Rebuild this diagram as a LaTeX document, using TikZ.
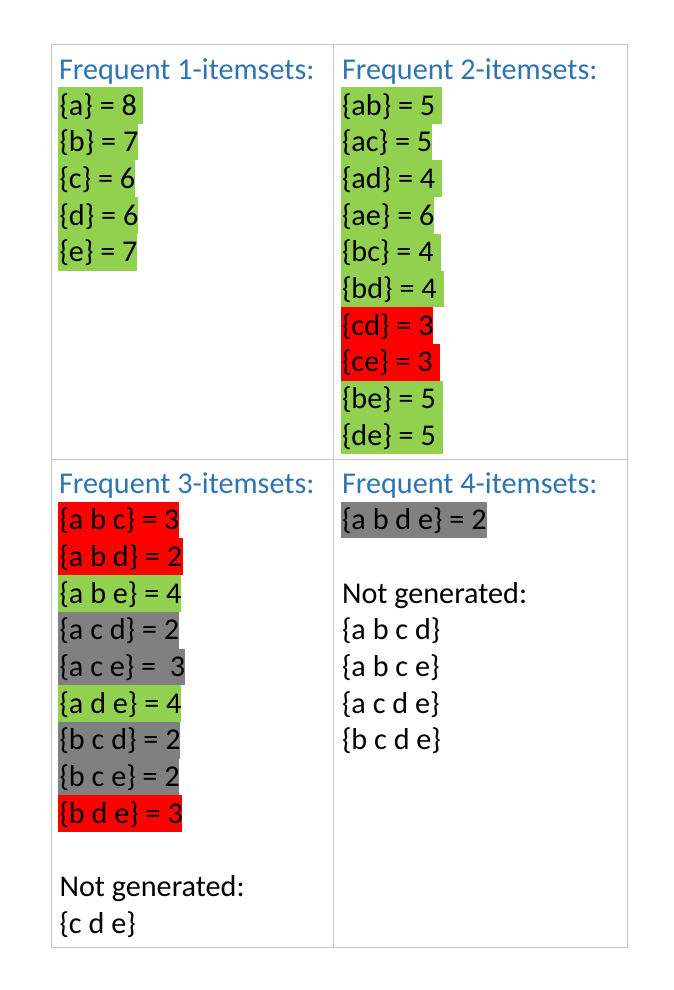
\documentclass[tikz,border=0pt]{standalone}
\usepackage{fontspec}
\setmainfont{Carlito}
\definecolor{hblue}{HTML}{2E74B5}
\definecolor{hgreen}{HTML}{92D050}
\definecolor{hred}{HTML}{FF0000}
\definecolor{hgray}{HTML}{808080}
\definecolor{rule}{HTML}{C8C8C8}
\newcommand\bodyfont{\fontsize{30.2}{37}\selectfont}
\tikzset{
  txt/.style={anchor=base west, inner sep=0pt, outer sep=0pt, font=\bodyfont, text=black},
  hdr/.style={txt, text=hblue},
  cellrule/.style={draw=rule, line width=1pt}
}
% #1 name prefix, #2 x of text, #3 top of first row, #4 list right/colour/text
\newcommand\hlcol[4]{%
  \foreach \r/\c/\t [count=\i from 0] in {#4} {%
    \pgfmathsetmacro\yy{#3+36.7*\i}%
    \fill[\c] (#2-1.5,\yy) rectangle (\r,\yy+36.7);%
    \node[txt] (#1\i) at (#2,\yy+28) {\t};%
  }}
\begin{document}
\begin{tikzpicture}[x=1pt,y=-1pt]
\useasboundingbox (0,0) rectangle (674,990);
% table
\draw[cellrule] (51,45) rectangle (627,947);
\draw[cellrule] (333,45) -- (333,947);
\draw[cellrule] (51,459.5) -- (627,459.5);
% headers
\node[hdr] (h1) at (59,79) {Frequent 1-itemsets:};
\node[hdr] (h2) at (342,79) {Frequent 2-itemsets:};
\node[hdr] (h3) at (59,493.7) {Frequent 3-itemsets:};
\node[hdr] (h4) at (342,493.7) {Frequent 4-itemsets:};
% column 1
\hlcol{a}{59.5}{87}{143/hgreen/\{a\} = 8, 138/hgreen/\{b\} = 7, 135/hgreen/\{c\} = 6, 138/hgreen/\{d\} = 6, 137/hgreen/\{e\} = 7}
% column 2
\hlcol{b}{342}{87}{442/hgreen/\{ab\} = 5, 432/hgreen/\{ac\} = 5, 442/hgreen/\{ad\} = 4, 434/hgreen/\{ae\} = 6, 441/hgreen/\{bc\} = 4, 444/hgreen/\{bd\} = 4, 433/hred/\{cd\} = 3, 440/hred/\{ce\} = 3, 443/hgreen/\{be\} = 5, 443/hgreen/\{de\} = 5}
% column 3
\hlcol{c}{59.5}{501.7}{179/hred/\{a b c\} = 3, 183/hred/\{a b d\} = 2, 181/hgreen/\{a b e\} = 4, 179/hgray/\{a c d\} = 2, 185/hgray/\{a c e\} =\ \ 3, 181/hgreen/\{a d e\} = 4, 180/hgray/\{b c d\} = 2, 179/hgray/\{b c e\} = 2, 182/hred/\{b d e\} = 3}
\node[txt] (c3ng) at (59.5,501.7+36.7*10+28) {Not generated:};
\node[txt] (c3x1) at (59.5,501.7+36.7*11+28) {\{c d e\}};
% column 4
\hlcol{d}{342}{501.7}{487/hgray/\{a b d e\} = 2}
\node[txt] (d4ng) at (342,501.7+36.7*2+28) {Not generated:};
\node[txt] (d4x1) at (342,501.7+36.7*3+28) {\{a b c d\}};
\node[txt] (d4x2) at (342,501.7+36.7*4+28) {\{a b c e\}};
\node[txt] (d4x3) at (342,501.7+36.7*5+28) {\{a c d e\}};
\node[txt] (d4x4) at (342,501.7+36.7*6+28) {\{b c d e\}};
\end{tikzpicture}
\end{document}
